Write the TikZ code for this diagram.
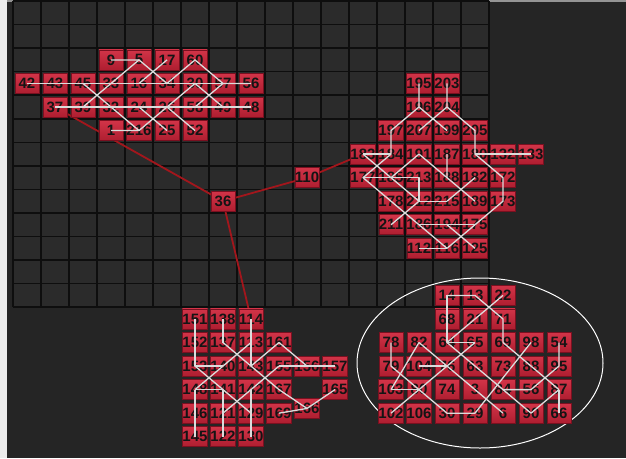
\documentclass[tikz,border=0pt]{standalone}
\usepackage{fontspec}
\setmainfont{Liberation Sans}
\definecolor{bgc}{HTML}{252525}
\definecolor{gridfill}{HTML}{2B2B2B}
\definecolor{gridline}{HTML}{0E0E0E}
\definecolor{linkred}{HTML}{A3161C}
\definecolor{ntop}{HTML}{D23448}
\definecolor{nbot}{HTML}{AE1E30}
\definecolor{nborder}{HTML}{7A1020}
\definecolor{wline}{HTML}{DCDCDC}
\tikzset{
  rn/.style={draw=nborder, line width=0.6pt, top color=ntop, bottom color=nbot,
    minimum width=24pt, minimum height=20pt, inner sep=0pt,
    font=\fontsize{15}{15}\selectfont\bfseries, text=black!92},
  wl/.style={draw=wline, line width=1.3pt, line join=round},
  redlink/.style={draw=linkred, line width=1.8pt},
  gl/.style={draw=gridline, line width=1.6pt},
}
\newcommand\nd[4]{\node[rn] (#1) at ({27+28*(#2)},{12.8+23.55*(#3)}) {#4};}
\begin{document}
\begin{tikzpicture}[x=1pt,y=-1pt]
\useasboundingbox (0,0) rectangle (626,458);
\fill[bgc] (0,0) rectangle (626,458);
\fill[black!42] (0,0) rectangle (626,2);
\fill[white!93!black] (0,0) rectangle (6.5,458);
% grid
\fill[gridfill] (13,1) rectangle (489,306.7);
\foreach \i in {0,...,17} \draw[gl] ({13+28*\i},1) -- ({13+28*\i},306.7);
\foreach \j in {0,...,13} \draw[gl] (13,{1+23.55*\j}) -- (489,{1+23.55*\j});
% ellipse
\draw[white, line width=1pt] (480,363) ellipse [x radius=123, y radius=85];
% coordinates of hubs for red links
\coordinate (p37) at ({27+28*1},{12.8+23.55*4});
\coordinate (p36) at ({27+28*7},{12.8+23.55*8});
\coordinate (p110) at ({27+28*10},{12.8+23.55*7});
\coordinate (p183) at ({27+28*12},{12.8+23.55*6});
\coordinate (p114) at ({27+28*8},{12.8+23.55*13});
\draw[redlink] (p37) -- (p36) -- (p110) -- (p183);
\draw[redlink] (p36) -- (p114);
% cluster 1
\nd{a9}{3}{2}{9}\nd{a5}{4}{2}{5}\nd{a17}{5}{2}{17}\nd{a60}{6}{2}{60}
\nd{a42}{0}{3}{42}\nd{a43}{1}{3}{43}\nd{a45}{2}{3}{45}\nd{a33}{3}{3}{33}\nd{a16}{4}{3}{16}\nd{a34}{5}{3}{34}\nd{a30}{6}{3}{30}\nd{a57}{7}{3}{57}\nd{a56}{8}{3}{56}
\nd{a37}{1}{4}{37}\nd{a39}{2}{4}{39}\nd{a32}{3}{4}{32}\nd{a24}{4}{4}{24}\nd{a26}{5}{4}{26}\nd{a58}{6}{4}{58}\nd{a49}{7}{4}{49}\nd{a48}{8}{4}{48}
\nd{a1}{3}{5}{1}\nd{a216}{4}{5}{216}\nd{a25}{5}{5}{25}\nd{a52}{6}{5}{52}
% hub nodes
\nd{h36}{7}{8}{36}\nd{h110}{10}{7}{110}
% cluster 2
\nd{b195}{14}{3}{195}\nd{b203}{15}{3}{203}
\nd{b196}{14}{4}{196}\nd{b204}{15}{4}{204}
\nd{b197}{13}{5}{197}\nd{b207}{14}{5}{207}\nd{b199}{15}{5}{199}\nd{b205}{16}{5}{205}
\nd{b183}{12}{6}{183}\nd{b184}{13}{6}{184}\nd{b191}{14}{6}{191}\nd{b187}{15}{6}{187}\nd{b180}{16}{6}{180}\nd{b132}{17}{6}{132}\nd{b133}{18}{6}{133}
\nd{b177}{12}{7}{177}\nd{b185}{13}{7}{185}\nd{b213}{14}{7}{213}\nd{b188}{15}{7}{188}\nd{b182}{16}{7}{182}\nd{b172}{17}{7}{172}
\nd{b178}{13}{8}{178}\nd{b212}{14}{8}{212}\nd{b215}{15}{8}{215}\nd{b189}{16}{8}{189}\nd{b173}{17}{8}{173}
\nd{b211}{13}{9}{211}\nd{b186}{14}{9}{186}\nd{b194}{15}{9}{194}\nd{b175}{16}{9}{175}
\nd{b112}{14}{10}{112}\nd{b116}{15}{10}{116}\nd{b125}{16}{10}{125}
% cluster 3
\nd{c151}{6}{13}{151}\nd{c138}{7}{13}{138}\nd{c114}{8}{13}{114}
\nd{c152}{6}{14}{152}\nd{c137}{7}{14}{137}\nd{c113}{8}{14}{113}\nd{c161}{9}{14}{161}
\nd{c153}{6}{15}{153}\nd{c140}{7}{15}{140}\nd{c143}{8}{15}{143}\nd{c155}{9}{15}{155}\nd{c156}{10}{15}{156}\nd{c157}{11}{15}{157}
\nd{c148}{6}{16}{148}\nd{c141}{7}{16}{141}\nd{c142}{8}{16}{142}\nd{c167}{9}{16}{167}\nd{c165}{11}{16}{165}
\nd{c166}{10}{16.8}{166}
\nd{c146}{6}{17}{146}\nd{c121}{7}{17}{121}\nd{c129}{8}{17}{129}\nd{c169}{9}{17}{169}
\nd{c145}{6}{18}{145}\nd{c122}{7}{18}{122}\nd{c130}{8}{18}{130}
% cluster 4
\nd{d14}{15}{12}{14}\nd{d13}{16}{12}{13}\nd{d22}{17}{12}{22}
\nd{d68}{15}{13}{68}\nd{d21}{16}{13}{21}\nd{d71}{17}{13}{71}
\nd{d78}{13}{14}{78}\nd{d82}{14}{14}{82}\nd{d64}{15}{14}{64}\nd{d65}{16}{14}{65}\nd{d69}{17}{14}{69}\nd{d98}{18}{14}{98}\nd{d54}{19}{14}{54}
\nd{d79}{13}{15}{79}\nd{d104}{14}{15}{104}\nd{d76}{15}{15}{76}\nd{d63}{16}{15}{63}\nd{d73}{17}{15}{73}\nd{d88}{18}{15}{88}\nd{d95}{19}{15}{95}
\nd{d103}{13}{16}{103}\nd{d80}{14}{16}{80}\nd{d74}{15}{16}{74}\nd{d3}{16}{16}{3}\nd{d84}{17}{16}{84}\nd{d56}{18}{16}{56}\nd{d87}{19}{16}{87}
\nd{d102}{13}{17}{102}\nd{d106}{14}{17}{106}\nd{d30}{15}{17}{30}\nd{d29}{16}{17}{29}\nd{d6}{17}{17}{6}\nd{d90}{18}{17}{90}\nd{d66}{19}{17}{66}
% white lines cluster 1
\draw[wl] (a9.center) -- (a5.center) -- (a34.center) -- (a60.center) -- (a57.center) -- (a56.center);
\draw[wl] (a42.center) -- (a57.center);
\draw[wl] (a37.center) -- (a48.center);
\draw[wl] (a45.center) -- (a216.center);
\draw[wl] (a39.center) -- (a5.center);
\draw[wl] (a17.center) -- (a16.center);
\draw[wl] (a1.center) -- (a216.center) -- (a30.center);
\draw[wl] (a24.center) -- (a25.center);
\draw[wl] (a30.center) -- (a49.center);
\draw[wl] (a58.center) -- (a57.center);
\draw[wl] (a26.center) -- (a52.center);
% white lines cluster 2
\draw[wl] (b195.center) -- (b196.center) -- (b197.center) -- (b184.center) -- (b177.center) -- (b116.center);
\draw[wl] (b203.center) -- (b204.center) -- (b205.center) -- (b180.center) -- (b172.center) -- (b173.center) -- (b116.center);
\draw[wl] (b196.center) -- (b199.center);
\draw[wl] (b204.center) -- (b207.center);
\draw[wl] (b180.center) -- (b133.center);
\draw[wl] (b183.center) -- (b184.center);
\draw[wl] (b183.center) -- (b212.center);
\draw[wl] (b177.center) -- (b213.center) -- (b212.center) -- (b215.center);
\draw[wl] (b191.center) -- (b185.center);
\draw[wl] (b191.center) -- (b188.center);
\draw[wl] (b187.center) -- (b188.center) -- (b189.center);
\draw[wl] (b215.center) -- (b182.center);
\draw[wl] (b186.center) -- (b175.center);
\draw[wl] (b211.center) -- (b212.center);
\draw[wl] (b112.center) -- (b116.center);
\draw[wl] (b194.center) -- (b125.center);
% white lines cluster 3
\draw[wl] (c151.center) -- (c153.center) -- (c140.center);
\draw[wl] (c148.center) -- (c145.center);
\draw[wl] (c148.center) -- (c141.center);
\draw[wl] (c138.center) -- (c137.center);
\draw[wl] (c141.center) -- (c122.center);
\draw[wl] (c114.center) -- (c143.center);
\draw[wl] (c142.center) -- (c130.center);
\draw[wl] (c153.center) -- (c141.center) -- (c129.center);
\draw[wl] (c137.center) -- (c143.center) -- (c167.center) -- (c166.center);
\draw[wl] (c148.center) -- (c140.center) -- (c113.center);
\draw[wl] (c121.center) -- (c142.center) -- (c155.center);
\draw[wl] (c143.center) -- (c161.center) -- (c156.center);
\draw[wl] (c155.center) -- (c157.center);
\draw[wl] (c165.center) -- (c166.center) -- (c169.center);
% white lines cluster 4
\draw[wl] (d14.center) -- (d13.center) -- (d71.center) -- (d69.center);
\draw[wl] (d22.center) -- (d21.center) -- (d64.center);
\draw[wl] (d14.center) -- (d64.center) -- (d65.center);
\draw[wl] (d78.center) -- (d79.center) -- (d80.center) -- (d30.center) -- (d29.center);
\draw[wl] (d82.center) -- (d6.center);
\draw[wl] (d64.center) -- (d90.center);
\draw[wl] (d102.center) -- (d65.center);
\draw[wl] (d103.center) -- (d82.center);
\draw[wl] (d103.center) -- (d80.center);
\draw[wl] (d104.center) -- (d76.center);
\draw[wl] (d29.center) -- (d98.center);
\draw[wl] (d69.center) -- (d87.center);
\draw[wl] (d54.center) -- (d95.center) -- (d56.center) -- (d84.center);
\draw[wl] (d87.center) -- (d66.center);
\draw[wl] (d87.center) -- (d90.center);
\end{tikzpicture}
\end{document}
